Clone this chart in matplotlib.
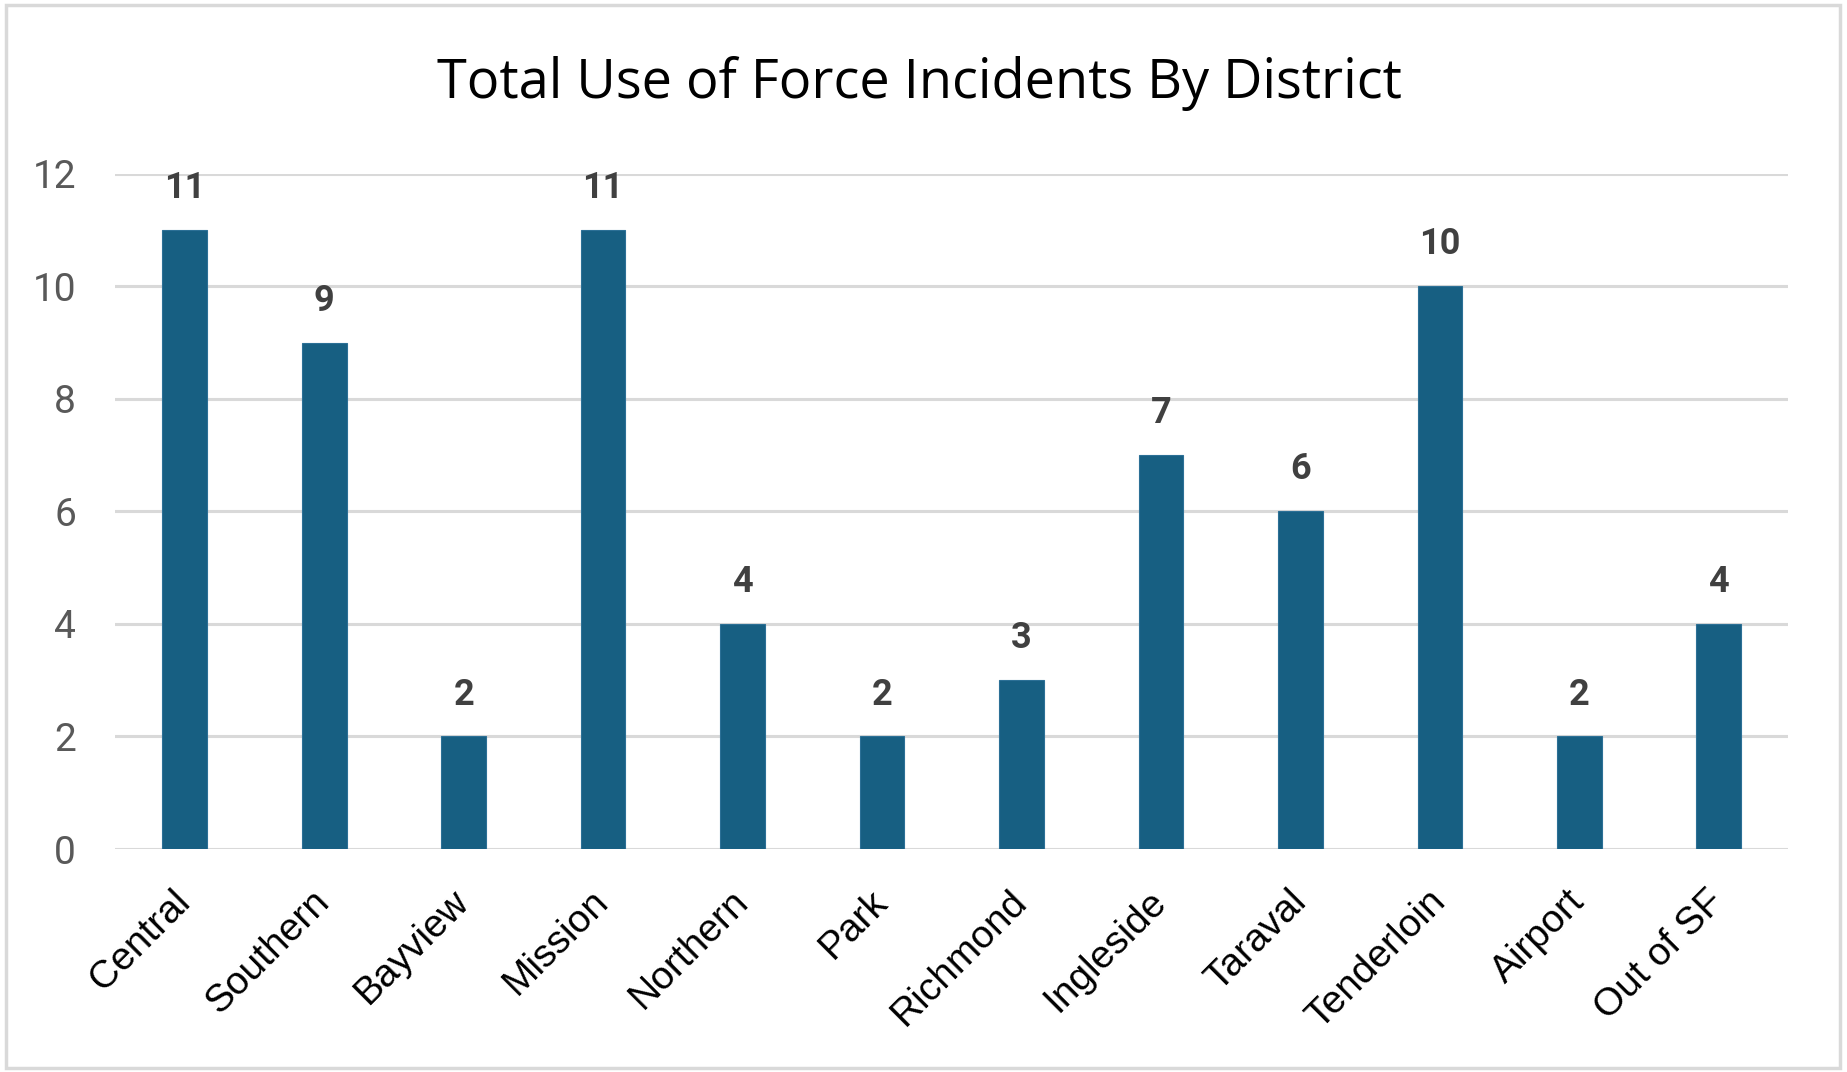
import matplotlib.pyplot as plt
import matplotlib.transforms as mtransforms
import numpy as np
from matplotlib.patches import Rectangle

# Use of force incidents by district
districts = ["Central", "Southern", "Bayview", "Mission", "Northern", "Park",
             "Richmond", "Ingleside", "Taraval", "Tenderloin", "Airport", "Out of SF"]
incidents = [11, 9, 2, 11, 4, 2, 3, 7, 6, 10, 2, 4]
yticks = [0, 2, 4, 6, 8, 10, 12]

bar_color = "#175F82"
grid_color = "#D9D9D9"

fig = plt.figure(figsize=(18.47, 10.72), dpi=100)
ax = fig.add_axes([0.0623, 0.208, 0.906, 0.630])

x = np.arange(len(districts))
bars = ax.bar(x, incidents, width=0.32, color=bar_color, edgecolor="#2C7096",
              linewidth=0.8, zorder=3)

for xi, v in zip(x, incidents):
    ax.annotate(str(v), (xi, v), xytext=(0, 23), textcoords="offset points",
                ha="center", va="baseline", fontsize=26, fontweight="bold",
                color="#404040", family="Roboto", annotation_clip=False)

ax.set_xlim(-0.5, len(districts) - 0.5)
ax.set_ylim(0, 12)
ax.set_yticks(yticks)
ax.set_yticklabels([str(t) for t in yticks], fontsize=28, color="#595959",
                   family="Roboto")
ax.yaxis.grid(True, color=grid_color, linewidth=2.2, zorder=0)
ax.set_axisbelow(True)

ax.set_xticks(x)
ax.set_xticklabels(districts, rotation=45, ha="right", va="center",
                   rotation_mode="anchor", fontsize=28, color="black",
                   family="Liberation Sans")
# nudge the slanted labels a little to the right
shift = mtransforms.ScaledTranslation(4 / 100, 0, fig.dpi_scale_trans)
for lbl in ax.get_xticklabels():
    lbl.set_transform(lbl.get_transform() + shift)

for s in ax.spines.values():
    s.set_visible(False)
ax.tick_params(axis="both", length=0)
ax.tick_params(axis="y", pad=28)
ax.tick_params(axis="x", pad=34)

fig.text(0.498, 0.922, "Total Use of Force Incidents By District", ha="center",
         va="center", fontsize=39, family="Open Sans", color="black")

# light gray frame around the chart
fig.patches.append(Rectangle((0.003, 0.004), 0.993, 0.991, transform=fig.transFigure,
                             fill=False, edgecolor="#D9D9D9", linewidth=2.5))

fig.savefig("out.png", dpi=100)
